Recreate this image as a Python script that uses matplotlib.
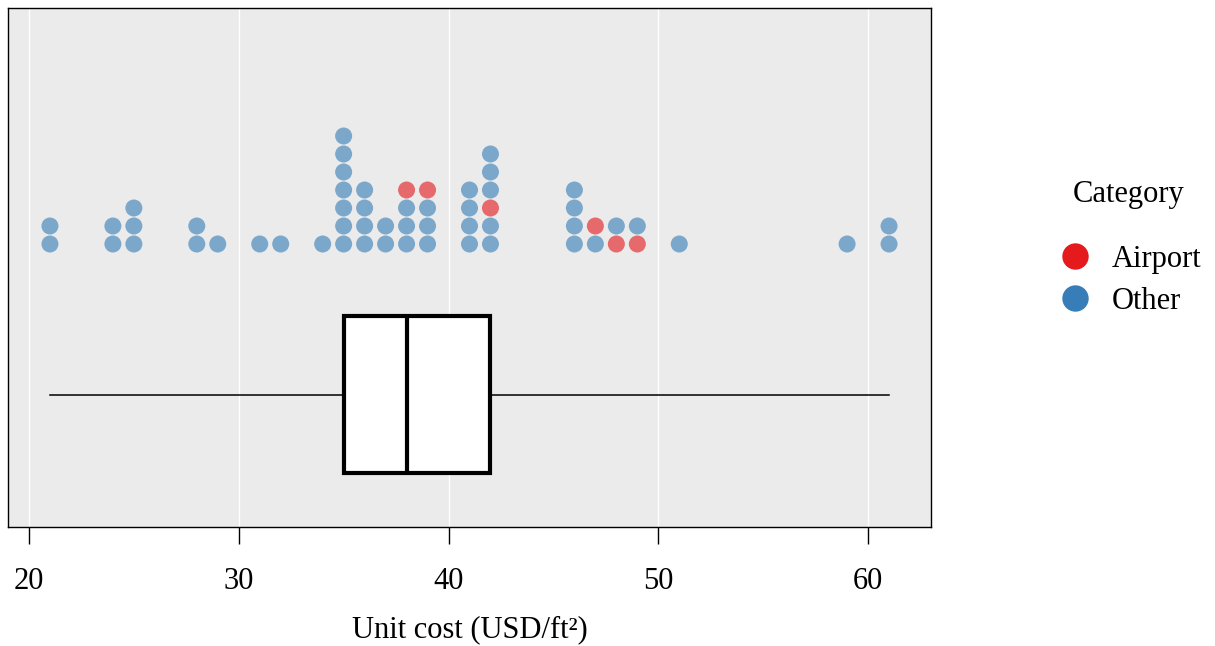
import matplotlib
matplotlib.use("Agg")
import matplotlib.pyplot as plt
from matplotlib.lines import Line2D

plt.rcParams['font.family'] = ['Liberation Serif', 'DejaVu Serif']

# unit cost per project, listed per stack from bottom to top
costs = [21, 21, 24, 24, 25, 25, 25, 28, 28, 29, 31, 32, 34,
         35, 35, 35, 35, 35, 35, 35, 36, 36, 36, 36, 37, 37,
         38, 38, 38, 38, 39, 39, 39, 39, 41, 41, 41, 41,
         42, 42, 42, 42, 42, 42, 46, 46, 46, 46, 47, 47,
         48, 48, 49, 49, 51, 59, 61, 61]
category = ['Other'] * 26 + ['Other', 'Other', 'Other', 'Airport',
            'Other', 'Other', 'Other', 'Airport'] + ['Other'] * 4 + \
           ['Other', 'Other', 'Airport', 'Other', 'Other', 'Other'] + \
           ['Other'] * 4 + ['Other', 'Airport', 'Airport', 'Other',
            'Airport', 'Other', 'Other', 'Other', 'Other', 'Other']
colors = {'Airport': '#E41A1C', 'Other': '#377EB8'}
xticks = [20, 30, 40, 50, 60]

fig = plt.figure(figsize=(12.15, 6.46), dpi=100)
ax = fig.add_axes([8 / 1215, 119 / 646, 923 / 1215, 519 / 646])
ax.set_facecolor('#EBEBEB')

# stack dots for repeated values
seen = {}
xs, ys, cs = [], [], []
for v, c in zip(costs, category):
    k = seen.get(v, 0)
    seen[v] = k + 1
    xs.append(v)
    ys.append(283 + 18 * k)
    cs.append(colors[c])
ax.scatter(xs, ys, s=150, c=cs, alpha=0.62, linewidths=0, zorder=3)

# box with whiskers to min/max
ax.boxplot(costs, vert=False, positions=[132.5], widths=157, whis=(0, 100),
           patch_artist=True, showcaps=False, manage_ticks=False,
           boxprops=dict(facecolor='white', edgecolor='black', linewidth=3),
           medianprops=dict(color='black', linewidth=3),
           whiskerprops=dict(color='black', linewidth=1.1),
           flierprops=dict(marker=''), zorder=3)

ax.set_xlim(19, 63)
ax.set_ylim(0, 519)
ax.set_yticks([])
ax.set_xticks(xticks)
ax.grid(axis='x', color='white', linewidth=1)
ax.set_axisbelow(True)
ax.tick_params(axis='x', length=12.5, width=1, pad=16, labelsize=22)
for s in ax.spines.values():
    s.set_linewidth(1)
ax.set_xlabel('Unit cost (USD/ft²)', fontsize=22, labelpad=14)

handles = [Line2D([], [], marker='o', linestyle='', markersize=19,
                  markerfacecolor=colors[k], markeredgewidth=0, label=k)
           for k in ['Airport', 'Other']]
leg = fig.legend(handles=handles, title='Category', loc='center',
                 bbox_to_anchor=(1129 / 1215, 1 - 248 / 646), frameon=False,
                 fontsize=22, title_fontsize=22, handletextpad=0.63,
                 handlelength=1.2, labelspacing=0.43)
leg._legend_box.sep = 26

fig.savefig('out.png', dpi=100)
